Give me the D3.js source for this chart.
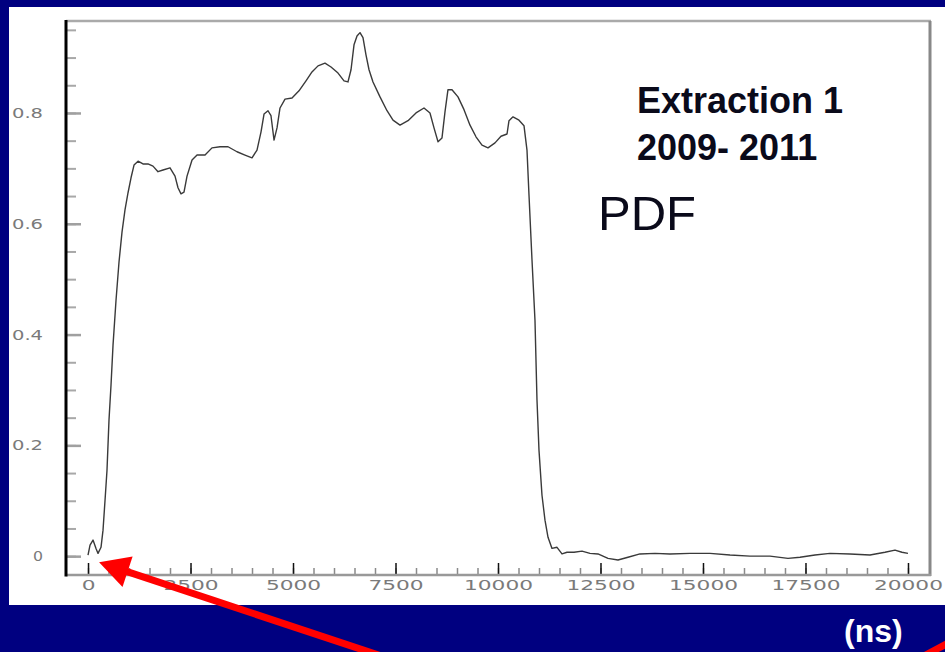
<!DOCTYPE html>
<html>
<head>
<meta charset="utf-8">
<script src="https://cdn.jsdelivr.net/npm/d3@7"></script>
<style>
  html, body { margin: 0; padding: 0; background: #000080; }
  svg { display: block; }
</style>
</head>
<body>
<svg id="chart" width="945" height="652"></svg>
<script>
// ---- data ----
const timeNs = [0,49,122,195,244,317,366,415,463,512,
  561,610,683,756,829,902,976,1049,1122,1220,
  1341,1463,1585,1707,1829,2000,2122,2195,2268,2341,
  2415,2537,2659,2854,3024,3220,3415,3634,3829,4000,
  4122,4220,4293,4390,4463,4537,4610,4683,4805,4976,
  5146,5317,5463,5610,5780,5927,6098,6244,6341,6415,
  6488,6561,6634,6707,6780,6854,6951,7122,7293,7439,
  7610,7805,8000,8195,8341,8439,8537,8634,8707,8780,
  8878,9024,9171,9317,9463,9610,9756,9927,10073,10220,
  10268,10366,10512,10634,10707,10756,10829,10902,10951,11000,
  11073,11146,11220,11317,11439,11561,11683,11854,12049,12244,
  12439,12683,12927,13171,13463,13829,14195,14683,15171,15659,
  16146,16634,17073,17366,17732,18098,18585,19073,19439,19683,
  19854,20000];
const pdfValues = [0.002,0.020,0.029,0.014,0.005,0.016,0.047,0.101,0.155,0.246,
  0.309,0.381,0.462,0.531,0.585,0.625,0.656,0.683,0.706,0.713,
  0.708,0.708,0.704,0.694,0.697,0.701,0.686,0.665,0.654,0.657,
  0.686,0.715,0.724,0.724,0.737,0.739,0.739,0.730,0.724,0.719,
  0.733,0.766,0.798,0.804,0.795,0.751,0.773,0.809,0.825,0.827,
  0.840,0.858,0.874,0.885,0.890,0.883,0.872,0.858,0.856,0.878,
  0.923,0.939,0.945,0.936,0.905,0.878,0.856,0.829,0.804,0.787,
  0.778,0.786,0.800,0.809,0.800,0.773,0.748,0.755,0.802,0.842,
  0.842,0.829,0.806,0.778,0.757,0.742,0.737,0.746,0.758,0.762,
  0.786,0.793,0.787,0.777,0.733,0.652,0.535,0.426,0.282,0.191,
  0.110,0.065,0.034,0.014,0.016,0.004,0.007,0.007,0.009,0.005,
  0.004,-0.004,-0.007,-0.002,0.004,0.005,0.004,0.005,0.005,0.002,
  0.000,0.000,-0.004,-0.002,0.002,0.005,0.004,0.002,0.007,0.011,
  0.007,0.005];
const xMajorTicks = [0,2500,5000,7500,10000,12500,15000,17500,20000];
const xMinorTicks = d3.range(0, 20001, 500);
const yMajorTicks = [0,0.2,0.4,0.6,0.8];
const yMinorTicks = [0,0.05,0.1,0.15,0.2,0.25,0.3,0.35,0.4,0.45,0.5,0.55,0.6,0.65,0.7,0.75,0.8,0.85,0.9,0.95];
const xDomain = [-537, 20537];
const yDomain = [-0.034, 0.966];
const titleLines = ["Extraction 1", "2009- 2011"];
const pdfLabel = "PDF";
const unitLabel = "(ns)";
const arrowTarget = [270, -0.011];

// ---- drawing ----
const svg = d3.select("#chart");
svg.append("rect").attr("x",0).attr("y",0).attr("width",945).attr("height",652).attr("fill","#000080");
svg.append("rect").attr("x",9).attr("y",7).attr("width",936).attr("height",598).attr("fill","#ffffff");

const L = 66, R = 930, T = 21, B = 575;
const x = d3.scaleLinear().domain(xDomain).range([L, R]);
const y = d3.scaleLinear().domain(yDomain).range([B, T]);

// minor x ticks
const gxMinor = svg.append("g").attr("transform", `translate(0,${B})`)
  .call(d3.axisBottom(x).tickValues(xMinorTicks).tickSize(-7).tickFormat(""));
gxMinor.select(".domain").remove();
gxMinor.selectAll("line").attr("stroke","#8a8a8a").attr("stroke-width",1.5);

// major x ticks with labels
const gx = svg.append("g").attr("transform", `translate(0,${B})`)
  .call(d3.axisBottom(x).tickValues(xMajorTicks).tickSize(-12).tickPadding(5).tickFormat(d3.format("d")));
gx.select(".domain").remove();
gx.selectAll("line").attr("stroke","#111").attr("stroke-width",1.5);
gx.selectAll("text")
  .attr("fill","#7a7a7a").attr("font-family","DejaVu Sans").attr("font-size",14)
  .each(function(d){
    const s = String(d);
    d3.select(this).attr("textLength", s.length*13.8).attr("lengthAdjust","spacingAndGlyphs");
  });

// minor y ticks
const gyMinor = svg.append("g").attr("transform", `translate(${L},0)`)
  .call(d3.axisLeft(y).tickValues(yMinorTicks).tickSize(-10).tickFormat(""));
gyMinor.select(".domain").remove();
gyMinor.selectAll("line").attr("stroke","#a8a8a8").attr("stroke-width",2);

// major y ticks with labels
const gy = svg.append("g").attr("transform", `translate(${L},0)`)
  .call(d3.axisLeft(y).tickValues(yMajorTicks).tickSize(-15).tickPadding(23)
        .tickFormat(d => d === 0 ? "0" : d3.format(".1f")(d)));
gy.select(".domain").remove();
gy.selectAll("line").attr("stroke","#a0a0a0").attr("stroke-width",2.5);
gy.selectAll("text")
  .attr("fill","#7a7a7a").attr("font-family","DejaVu Sans").attr("font-size",14)
  .each(function(d){
    const s = d === 0 ? "0" : d3.format(".1f")(d);
    d3.select(this).attr("textLength", s === "0" ? 10 : 31).attr("lengthAdjust","spacingAndGlyphs");
  });

// frame
svg.append("line").attr("x1",L).attr("x2",R+1).attr("y1",T).attr("y2",T).attr("stroke","#aaaaaa").attr("stroke-width",2.5);
svg.append("line").attr("x1",R).attr("x2",R).attr("y1",T).attr("y2",B+1).attr("stroke","#888888").attr("stroke-width",3);
svg.append("line").attr("x1",L).attr("x2",R+1).attr("y1",B).attr("y2",B).attr("stroke","#999999").attr("stroke-width",2.5);
svg.append("line").attr("x1",L).attr("x2",L).attr("y1",T-1).attr("y2",B+1.5).attr("stroke","#000").attr("stroke-width",3);

// curve
const pts = timeNs.map((t,i) => [t, pdfValues[i]]);
svg.append("path").datum(pts)
  .attr("fill","none").attr("stroke","#3a3a3a").attr("stroke-width",1.4)
  .attr("stroke-linejoin","round")
  .attr("d", d3.line().x(d => x(d[0])).y(d => y(d[1])));

// annotations
svg.append("text").attr("x",637).attr("y",113).text(titleLines[0])
  .attr("font-family","Liberation Sans, Arial, sans-serif").attr("font-weight","bold").attr("font-size",36).attr("fill","#0a0a1a");
svg.append("text").attr("x",637).attr("y",160).text(titleLines[1])
  .attr("font-family","Liberation Sans, Arial, sans-serif").attr("font-weight","bold").attr("font-size",36).attr("fill","#0a0a1a");
svg.append("text").attr("x",598).attr("y",230).text(pdfLabel)
  .attr("font-family","Liberation Sans, Arial, sans-serif").attr("font-size",49).attr("fill","#0a0a1a");
svg.append("text").attr("x",844).attr("y",642).text(unitLabel)
  .attr("font-family","Liberation Sans, Arial, sans-serif").attr("font-weight","bold").attr("font-size",32).attr("fill","#ffffff");

// red arrow pointing at the curve start
const tipX = x(arrowTarget[0]), tipY = y(arrowTarget[1]);
const ang = Math.atan2(90, 271);
const ux = Math.cos(ang), uy = Math.sin(ang);
const headLen = 30, headW = 16;
const bx = tipX + ux*headLen, by = tipY + uy*headLen;
svg.append("line").attr("x1", bx - ux*2).attr("y1", by - uy*2)
  .attr("x2", tipX + ux*300).attr("y2", tipY + uy*300)
  .attr("stroke","#ff0000").attr("stroke-width",7);
svg.append("path")
  .attr("d", `M${tipX},${tipY} L${bx - uy*headW},${by + ux*headW} L${bx + uy*headW},${by - ux*headW} Z`)
  .attr("fill","#ff0000");
// partial second arrow at bottom-right corner
svg.append("line").attr("x1",922).attr("y1",657).attr("x2",965).attr("y2",634)
  .attr("stroke","#ff0000").attr("stroke-width",7);
</script>
</body>
</html>
